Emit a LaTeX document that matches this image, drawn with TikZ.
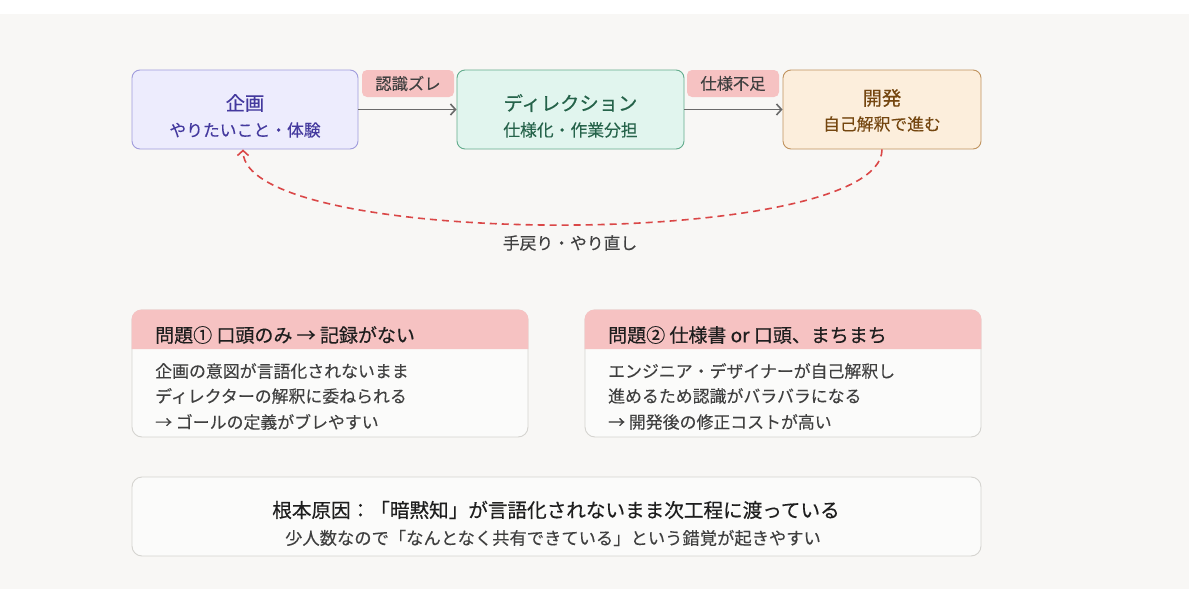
\documentclass[tikz,border=0pt]{standalone}
\usepackage{fontspec}
\setmainfont{Noto Sans CJK JP}
\newfontfamily\medfont{Noto Sans CJK JP}[FakeBold=0.45]
\newfontfamily\regfont{Noto Sans CJK JP}[FakeBold=0.15]
\usetikzlibrary{arrows.meta}
\definecolor{bg}{HTML}{F8F7F5}
\definecolor{pfill}{HTML}{EDECFD}
\definecolor{pdraw}{HTML}{A09CDC}
\definecolor{ptext}{HTML}{44399E}
\definecolor{dfill}{HTML}{E1F5EE}
\definecolor{ddraw}{HTML}{62AC8C}
\definecolor{dtext}{HTML}{25634A}
\definecolor{vfill}{HTML}{FCEEDC}
\definecolor{vdraw}{HTML}{C0935E}
\definecolor{vtext}{HTML}{74460F}
\definecolor{pink}{HTML}{F6C2C2}
\definecolor{agray}{HTML}{6A6A6A}
\definecolor{red}{HTML}{DA4747}
\definecolor{cardfill}{HTML}{FBFBFA}
\definecolor{carddraw}{HTML}{D5D4D0}
\definecolor{dark}{HTML}{1E1E1E}
\definecolor{body}{HTML}{404040}
\tikzset{
  flowbox/.style={draw, line width=0.9pt, rounded corners=8pt, minimum width=226pt, minimum height=79pt, inner sep=0pt},
  tag/.style={fill=pink, rounded corners=5pt, minimum width=92pt, minimum height=27pt, inner sep=0pt, text=body, font=\regfont\fontsize{16.3}{19}\selectfont},
  ttl/.style={inner sep=0pt, font=\medfont\fontsize{19.3}{22}\selectfont},
  sub/.style={inner sep=0pt, font=\regfont\fontsize{16.8}{20}\selectfont},
  flow/.style={draw=agray, line width=1.7pt, -{Straight Barb[length=5pt,width=11pt,line width=1.6pt]}},
  back/.style={draw=red, line width=1.6pt, dash pattern=on 7pt off 5pt, -{Straight Barb[length=5pt,width=11pt,line width=1.6pt]}},
  card/.style={draw=carddraw, fill=cardfill, line width=0.9pt, rounded corners=10pt, inner sep=0pt},
  head/.style={inner sep=0pt, anchor=west, text=dark, font=\medfont\fontsize{19}{22}\selectfont},
  line/.style={inner sep=0pt, anchor=west, text=body, font=\regfont\fontsize{16.9}{20}\selectfont},
}
\begin{document}
\begin{tikzpicture}[x=1pt,y=-1pt]
\useasboundingbox (0,0) rectangle (1200,589);
\fill[bg] (0,14) rectangle (1189,589);

% flow boxes
\node[flowbox, fill=pfill, draw=pdraw] (plan) at (245,109.5) {};
\node[ttl, text=ptext] (planT) at (245,103) {企画};
\node[sub, text=ptext] (planS) at (245,130) {やりたいこと・体験};

\node[flowbox, fill=dfill, draw=ddraw, minimum width=227pt] (dir) at (570.5,109.5) {};
\node[ttl, text=dtext] (dirT) at (570.5,103) {ディレクション};
\node[sub, text=dtext] (dirS) at (570.5,130) {仕様化・作業分担};

\node[flowbox, fill=vfill, draw=vdraw, minimum width=198pt] (dev) at (882,109.5) {};
\node[ttl, text=vtext] (devT) at (882,98) {開発};
\node[sub, text=vtext] (devS) at (882,124) {自己解釈で進む};

% tags
\node[tag] (tag1) at (408,83.5) {認識ズレ};
\node[tag] (tag2) at (733,83.5) {仕様不足};

% connectors
\draw[flow] (plan.east) -- (dir.west);
\draw[flow] (dir.east) -- (dev.west);
\draw[back] (dev.south) .. controls (882,250) and (243,250) .. (plan.south -| 243,149);
\node[sub, text=body] (backL) at (570,243) {手戻り・やり直し};

% problem cards
\node[card, minimum width=396pt, minimum height=127pt] (p1) at (330,373.5) {};
\fill[pink] (p1.south west |- 0,349) [rounded corners=10pt] -- (p1.north west) -- (p1.north east) [sharp corners] -- (p1.south east |- 0,349) -- cycle;
\node[head] (p1h) at (155,335) {問題① 口頭のみ → 記録がない};
\node[line] (p1a) at (155,371) {企画の意図が言語化されないまま};
\node[line] (p1b) at (155,396) {ディレクターの解釈に委ねられる};
\node[line] (p1c) at (155,422) {→ ゴールの定義がブレやすい};

\node[card, minimum width=396pt, minimum height=127pt] (p2) at (783,373.5) {};
\fill[pink] (p2.south west |- 0,349) [rounded corners=10pt] -- (p2.north west) -- (p2.north east) [sharp corners] -- (p2.south east |- 0,349) -- cycle;
\node[head] (p2h) at (608,335) {問題② 仕様書 or 口頭、まちまち};
\node[line] (p2a) at (608,371) {エンジニア・デザイナーが自己解釈し};
\node[line] (p2b) at (608,396) {進めるため認識がバラバラになる};
\node[line] (p2c) at (608,422) {→ 開発後の修正コストが高い};

% root cause
\node[card, minimum width=849pt, minimum height=79pt] (root) at (556.5,516.5) {};
\node[inner sep=0pt, text=dark, font=\medfont\fontsize{19.6}{23}\selectfont] (rootT) at (556,510) {根本原因：「暗黙知」が言語化されないまま次工程に渡っている};
\node[inner sep=0pt, text=body, font=\regfont\fontsize{17.3}{20}\selectfont] (rootS) at (553,538) {少人数なので「なんとなく共有できている」という錯覚が起きやすい};
\end{tikzpicture}
\end{document}
